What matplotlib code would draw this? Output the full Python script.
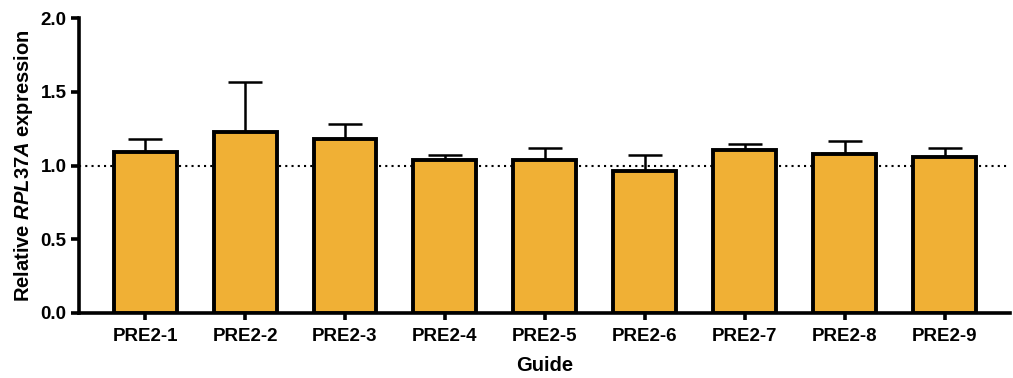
import matplotlib
matplotlib.use("Agg")
import matplotlib.pyplot as plt
import numpy as np

guides = ["PRE2-1", "PRE2-2", "PRE2-3", "PRE2-4", "PRE2-5",
          "PRE2-6", "PRE2-7", "PRE2-8", "PRE2-9"]
means = [1.09, 1.23, 1.18, 1.035, 1.04, 0.965, 1.105, 1.08, 1.06]
upper_err = [0.09, 0.34, 0.10, 0.035, 0.08, 0.105, 0.04, 0.085, 0.06]
yticks = [0.0, 0.5, 1.0, 1.5, 2.0]

plt.rcParams["font.family"] = "Liberation Sans"
plt.rcParams["font.weight"] = "bold"
plt.rcParams["mathtext.fontset"] = "custom"
plt.rcParams["mathtext.it"] = "Liberation Sans:italic:bold"
plt.rcParams["mathtext.rm"] = "Liberation Sans:bold"

fig = plt.figure(figsize=(10.13, 3.78), dpi=100)
ax = fig.add_axes([0.078, 0.172, 0.919, 0.780])

x = np.arange(len(guides))
ax.axhline(1.0, color="black", linestyle=(0, (1, 2.0)), linewidth=1.5, zorder=1)
ax.errorbar(x, means, yerr=[np.zeros(len(means)), upper_err], fmt="none",
            ecolor="black", elinewidth=1.8, capsize=12.5, capthick=1.8, zorder=2)
ax.bar(x, means, width=0.63, color="#F0B035", edgecolor="black",
       linewidth=2.8, zorder=3)

ax.set_xlim(-0.66, 8.65)
ax.set_ylim(0, 2.0)
ax.set_yticks(yticks)
ax.set_yticklabels([f"{t:.1f}" for t in yticks])
ax.set_xticks(x)
ax.set_xticklabels(guides)

for s in ["top", "right"]:
    ax.spines[s].set_visible(False)
for s in ["left", "bottom"]:
    ax.spines[s].set_linewidth(2.6)
ax.tick_params(axis="both", width=2.6, labelsize=13.5, colors="black")
ax.tick_params(axis="y", length=6, pad=3)
ax.tick_params(axis="x", length=5, pad=6)

ax.set_ylabel(r"Relative $\mathit{RPL37A}$ expression", fontsize=14.5, fontweight="bold", labelpad=4)
ax.set_xlabel("Guide", fontsize=14.5, fontweight="bold", labelpad=8)

fig.savefig("out.png", dpi=100)
